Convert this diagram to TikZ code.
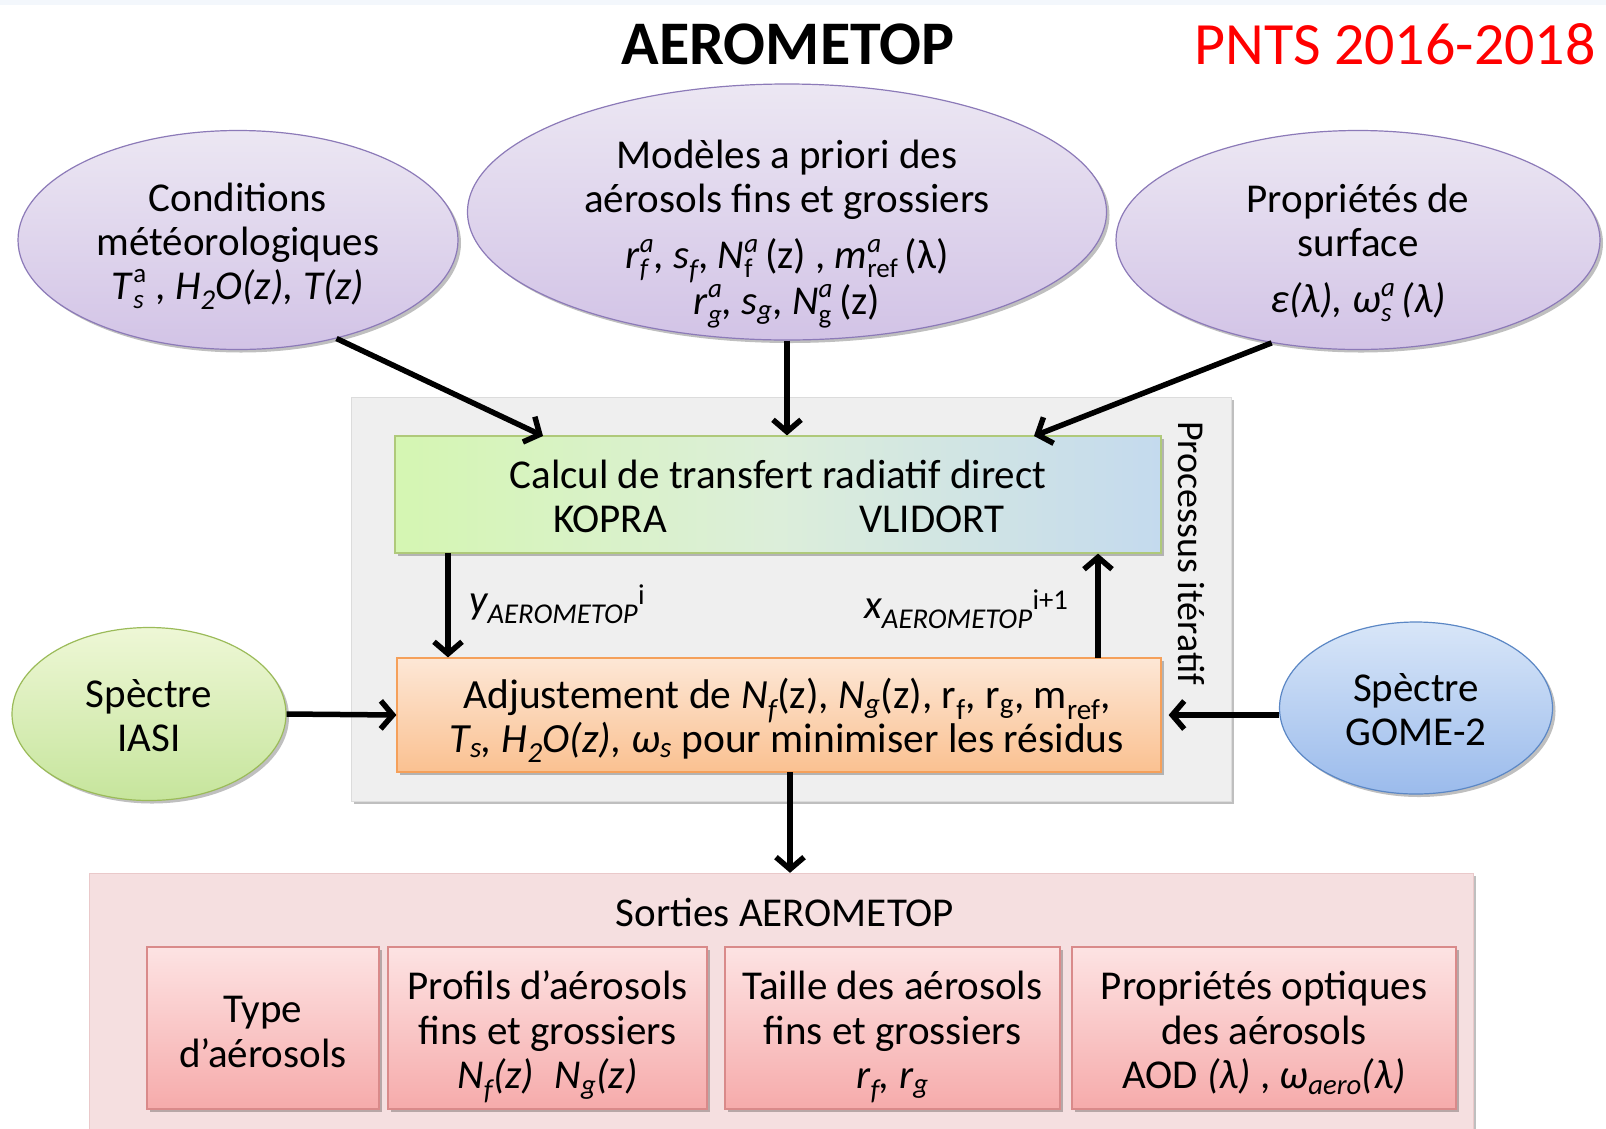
\documentclass[tikz,border=0pt]{standalone}
\usepackage{fontspec}
\setmainfont{Carlito}
\usetikzlibrary{shapes.geometric,arrows.meta,shadows}
\definecolor{purT}{HTML}{ECE7F3}
\definecolor{purB}{HTML}{D2C3E6}
\definecolor{purD}{HTML}{8C7AB8}
\definecolor{grnT}{HTML}{EEF7D6}
\definecolor{grnB}{HTML}{C6E59C}
\definecolor{grnD}{HTML}{9BBB59}
\definecolor{bluT}{HTML}{D8E6F8}
\definecolor{bluB}{HTML}{9BBBEC}
\definecolor{bluD}{HTML}{5B87C5}
\definecolor{gbL}{HTML}{D5F6B2}
\definecolor{gbM}{HTML}{DCEEDA}
\definecolor{gbR}{HTML}{C4DAEE}
\definecolor{orT}{HTML}{FDE7D6}
\definecolor{orB}{HTML}{FAC191}
\definecolor{orD}{HTML}{F5A05A}
\definecolor{grayF}{HTML}{EFEFEF}
\definecolor{grayD}{HTML}{DCDCDC}
\definecolor{pinkF}{HTML}{F5DFE0}
\definecolor{pinkD}{HTML}{EAC9CA}
\definecolor{rbT}{HTML}{FDE3E3}
\definecolor{rbB}{HTML}{F6ABAB}
\definecolor{rbD}{HTML}{D98A8A}
\definecolor{topband}{HTML}{F3F7FC}
\definecolor{pntsred}{HTML}{FF0000}
\newsavebox\ssbA
\newsavebox\ssbB
\newcommand\ssp[2]{\sbox\ssbA{\raisebox{-0.22em}{\fontsize{27}{27}\selectfont #1}}\sbox\ssbB{\raisebox{0.40em}{\fontsize{27}{27}\selectfont #2}}\ifdim\wd\ssbA>\wd\ssbB \rlap{\usebox\ssbB}\usebox\ssbA\else\rlap{\usebox\ssbA}\usebox\ssbB\fi}
\begin{document}
\begin{tikzpicture}[x=1pt,y=-1pt,
  txt/.style={align=center,inner sep=0pt,font=\fontsize{41}{44}\selectfont},
  ell/.style={ellipse,draw=purD,line width=1.2pt,top color=purT,bottom color=purB},
  sh/.style={drop shadow={shadow xshift=3pt,shadow yshift=-3pt,opacity=0.25,fill=black}},
  arr/.style={line width=5.5pt,-{Straight Barb[length=12pt,width=28pt]}},
  outbox/.style={draw=rbD,line width=1.2pt,top color=rbT,bottom color=rbB,minimum height=162pt,inner sep=0pt,sh},
  outtxt/.style={align=center,inner sep=0pt,font=\fontsize{41}{44.5}\selectfont}
]
\useasboundingbox (0,0) rectangle (1606,1128);
\fill[white] (0,0) rectangle (1606,1128);
\fill[topband] (0,0) rectangle (1606,5);

% title
\node[font=\fontsize{62}{62}\selectfont\bfseries] (title) at (788,44) {AEROMETOP};
\node[font=\fontsize{60}{60}\selectfont,text=pntsred] (pnts) at (1395,44) {PNTS 2016-2018};

% gray process box and pink output box
\node[draw=grayD,fill=grayF,minimum width=880pt,minimum height=404pt,inner sep=0pt,sh] (proc) at (791,599) {};
\node[draw=pinkD,fill=pinkF,minimum width=1384pt,minimum height=258pt,inner sep=0pt,sh] (outs) at (781,1002) {};

% ellipses
\node[ell,minimum width=440pt,minimum height=219pt,sh] (e1) at (238,240) {};
\node[ell,minimum width=639pt,minimum height=256pt,sh] (e2) at (787,212) {};
\node[ell,minimum width=484pt,minimum height=219pt,sh] (e3) at (1358,240) {};
\node[ellipse,draw=grnD,line width=1.2pt,top color=grnT,bottom color=grnB,minimum width=274pt,minimum height=173pt,sh] (iasi) at (149,714) {};
\node[ellipse,draw=bluD,line width=1.2pt,top color=bluT,bottom color=bluB,minimum width=273pt,minimum height=172pt,sh] (gome) at (1416,708) {};

\node[txt] (t1) at (238,246) {Conditions\\météorologiques\\\textit{T}\ssp{\textit{s}}{a} , \textit{H\textsubscript{2}O(z), T(z)}};
\node[txt] (t2) at (787,234) {Modèles a priori des\\aérosols fins et grossiers\\[12pt]\textit{r}\ssp{\textit{f}}{\textit{a}}, \textit{s\textsubscript{f}}, \textit{N}\ssp{f}{\textit{a}}\,(z) , \textit{m}\ssp{ref}{\textit{a}}\,(λ)\\\textit{r}\ssp{\textit{g}}{\textit{a}}, \textit{s\textsubscript{g}}, \textit{N}\ssp{g}{\textit{a}}\,(z)};
\node[txt] (t3) at (1358,253) {Propriétés de\\surface\\[12pt]\textit{ε(λ), ω}\ssp{\textit{s}}{\textit{a}}\,\textit{(λ)}};
\node[txt] (t4) at (149,716) {Spèctre\\IASI};
\node[txt] (t5) at (1416,710) {Spèctre\\GOME-2};

% green and orange boxes
\node[draw=grnD!80,line width=1.2pt,left color=gbL,right color=gbR,middle color=gbM,minimum width=766pt,minimum height=117pt,inner sep=0pt,sh] (green) at (778,494.5) {};
\node[txt] (g1) at (778,474) {Calcul de transfert radiatif direct};
\node[txt] (kopra) at (610,519) {KOPRA};
\node[txt] (vlidort) at (932,519) {VLIDORT};

\node[draw=orD,line width=1.2pt,top color=orT,bottom color=orB,minimum width=764pt,minimum height=114pt,inner sep=0pt,sh] (orange) at (779,715) {};
\node[txt,anchor=base,font=\fontsize{41.5}{46}\selectfont] (o1) at (787,708) {Adjustement de \textit{N\textsubscript{f}}(z), \textit{N\textsubscript{g}}(z), r\textsubscript{f}, r\textsubscript{g}, m\textsubscript{ref},};
\node[txt,anchor=base,font=\fontsize{41.5}{46}\selectfont] (o2) at (787,752) {\textit{T\textsubscript{s}, H\textsubscript{2}O(z), ω\textsubscript{s}} pour minimiser les résidus};

\node[txt,rotate=-90,font=\fontsize{38}{40}\selectfont] (iter) at (1191,553) {Processus itératif};

\node[txt,anchor=west] (ylab) at (469,604) {\textit{y\textsubscript{AEROMETOP}}\textsuperscript{i}};
\node[txt,anchor=west] (xlab) at (864,609) {\textit{x\textsubscript{AEROMETOP}}\textsuperscript{i+1}};

% outputs
\node[txt] (sorties) at (785,912) {Sorties AEROMETOP};
\node[outbox,minimum width=232pt] (b1) at (263,1028) {};
\node[outbox,minimum width=319pt] (b2) at (547.5,1028) {};
\node[outbox,minimum width=335pt] (b3) at (892.5,1028) {};
\node[outbox,minimum width=384pt] (b4) at (1264,1028) {};
\node[outtxt] (bt1) at (263,1032) {Type\\d’aérosols};
\node[outtxt] (bt2) at (547.5,1037) {Profils d’aérosols\\fins et grossiers\\\textit{N\textsubscript{f}(z)\enspace N\textsubscript{g}(z)}};
\node[outtxt] (bt3) at (892.5,1037) {Taille des aérosols\\fins et grossiers\\\textit{r\textsubscript{f}, r\textsubscript{g}}};
\node[outtxt] (bt4) at (1264,1033) {Propriétés optiques\\des aérosols\\AOD \textit{(λ)} , \textit{ω\textsubscript{aero}(λ)}};

% connectors
\coordinate (g-in1) at (543,436);
\coordinate (g-in3) at (1034,436);
\coordinate (g-down) at (448,553);
\coordinate (o-up) at (1098,658);
\coordinate (o-down) at (790,772);
\draw[arr] (e1.-45) -- (g-in1);
\draw[arr] (e2.south) -- (e2.south |- green.north);
\draw[arr] (e3.230) -- (g-in3);
\draw[arr] (g-down) -- (g-down |- orange.north);
\draw[arr] (o-up) -- (o-up |- green.south);
\draw[arr] (iasi.east) -- (orange.west);
\draw[arr] (gome.west |- orange.east) -- ([xshift=7pt]orange.east);
\draw[arr] (o-down) -- (o-down |- outs.north);
\end{tikzpicture}
\end{document}
